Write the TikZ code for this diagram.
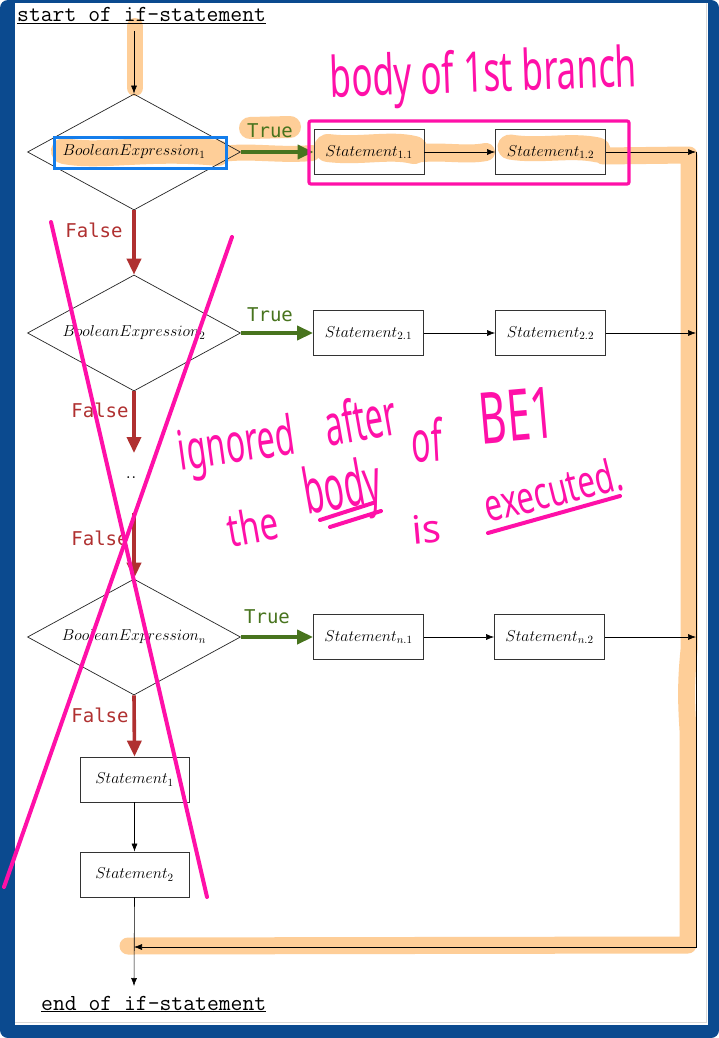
\RequirePackage{fix-cm}
\documentclass[tikz,border=0pt]{standalone}
\usepackage{fontspec}
\newfontfamily\dvm{DejaVu Sans Mono}
\newfontfamily\hw{Noto Sans}
\usetikzlibrary{shapes.geometric,arrows.meta}
\definecolor{frameblue}{RGB}{11,74,143}
\definecolor{tgreen}{RGB}{72,116,30}
\definecolor{fred}{RGB}{176,48,48}
\definecolor{ink}{RGB}{255,16,168}
\definecolor{hl}{RGB}{254,206,152}
\definecolor{hlblue}{RGB}{20,125,235}
\begin{document}
\begin{tikzpicture}[x=1pt,y=-1pt,
  stmt/.style={draw=black!80, line width=0.8pt, minimum width=110pt, minimum height=45pt, inner sep=0pt, font=\fontsize{15.8}{18}\selectfont},
  cond/.style={diamond, shape aspect=1.84, draw=black!85, line width=0.7pt, minimum width=213pt, minimum height=116pt, inner sep=0pt, font=\fontsize{15.8}{18}\selectfont},
  thinarr/.style={-{Latex[length=8pt,width=6pt]}, line width=0.6pt},
  tarr/.style={tgreen, line width=3.6pt, -{Triangle[length=16pt,width=14pt]}},
  farr/.style={fred, line width=3.6pt, -{Triangle[length=16pt,width=14pt]}},
  tlab/.style={text=tgreen, font=\dvm\fontsize{19}{21}\selectfont, inner sep=0pt},
  flab/.style={text=fred, font=\dvm\fontsize{19}{21}\selectfont, inner sep=0pt},
  hlstroke/.style={hl, line cap=round, line join=round},
  pen/.style={ink, line width=4pt, line cap=round, line join=round},
  hand/.style={text=ink, font=\hw, inner sep=0pt, anchor=base},
  ttl/.style={font=\ttfamily\fontsize{23}{25}\selectfont, inner sep=0pt, anchor=base west}
  ]
\useasboundingbox (0,0) rectangle (719,1038);
% frame
\fill[frameblue, rounded corners=8pt] (0,0) rectangle (719,1038);
\fill[white] (15,3) rectangle (708,1025);
\draw[black!15, line width=0.6pt] (706,3) -- (706,1022) -- (15,1022);

% highlighter strokes
\draw[hlstroke, line width=16pt] (135,26) -- (135,88);
\draw[hlstroke, line width=26pt] (64,151) .. controls (100,158) and (150,146) .. (218,153);
\draw[hlstroke, line width=22pt] (250,128) -- (290,127);
\draw[hlstroke, line width=16pt] (222,154) .. controls (250,150) and (280,156) .. (312,153);
\draw[hlstroke, line width=28pt] (328,148) .. controls (360,152) and (390,144) .. (414,150);
\draw[hlstroke, line width=18pt] (414,154) .. controls (440,150) and (465,156) .. (486,152);
\draw[hlstroke, line width=25pt] (510,147) .. controls (540,152) and (570,144) .. (598,150);
\draw[hlstroke, line width=17pt] (603,156) -- (689,155) -- (689,650) .. controls (686,680) and (686,700) .. (688,730) -- (688,945) -- (128,946);

% titles
\node[ttl] (start) at (17,22) {\underline{start of if-statement}};
\node[ttl] (end) at (41,1010) {\underline{end of if-statement}};

% decisions
\node[cond] (d1) at (134,152) {$BooleanExpression_1$};
\node[cond] (d2) at (134,333) {$BooleanExpression_2$};
\node[cond] (dn) at (134,637) {$BooleanExpression_n$};
\node[minimum height=60pt, inner sep=0pt, font=\fontsize{22}{24}\selectfont] (dots) at (131,478) {..};

% statements
\node[stmt] (s11) at (369,152) {$Statement_{1.1}$};
\node[stmt] (s12) at (550.5,152) {$Statement_{1.2}$};
\node[stmt] (s21) at (368.5,333) {$Statement_{2.1}$};
\node[stmt] (s22) at (550.5,333) {$Statement_{2.2}$};
\node[stmt] (sn1) at (368.5,637) {$Statement_{n.1}$};
\node[stmt] (sn2) at (549.5,637) {$Statement_{n.2}$};
\node[stmt, minimum width=109pt] (st1) at (134.5,779.5) {$Statement_1$};
\node[stmt, minimum width=109pt] (st2) at (134.5,874.5) {$Statement_2$};

% coordinates
\coordinate (top) at (134,31);
\coordinate (r1) at (696,152);
\coordinate (r2) at (696,333);
\coordinate (r3) at (696,637);
\coordinate (rb) at (696,947);
\coordinate (merge) at (134,947);
\coordinate (exit) at (134,986);
\coordinate (dtop) at (134,453);
\coordinate (dbot) at (134,513);

% connectors
\draw[thinarr] (top) -- (d1.north);
\draw[tarr] (d1.east) -- (s11.west);
\draw[tarr] (d2.east) -- (s21.west);
\draw[tarr] (dn.east) -- (sn1.west);
\draw[farr] (d1.south) -- (d2.north);
\draw[farr] (d2.south) -- (dtop);
\draw[farr] (dbot) -- (dn.north);
\draw[farr] (dn.south) -- (st1.north);
\draw[thinarr] (s11) -- (s12);
\draw[thinarr] (s21) -- (s22);
\draw[thinarr] (sn1) -- (sn2);
\draw[thinarr] (s12) -- (r1);
\draw[thinarr] (s22) -- (r2);
\draw[thinarr] (sn2) -- (r3);
\draw[thinarr] (r1) -- (rb) -- (merge);
\draw[thinarr] (st1) -- (st2);
\draw[thinarr] (st2.south) -- (exit);

% labels
\node[tlab, anchor=base] (tl1) at (270,137) {True};
\node[tlab, anchor=base] (tl2) at (270,321) {True};
\node[tlab, anchor=base] (tl3) at (267,623) {True};
\node[flab, anchor=base] (fl1) at (94,237) {False};
\node[flab, anchor=base] (fl2) at (100,417) {False};
\node[flab, anchor=base] (fl3) at (100,545) {False};
\node[flab, anchor=base] (fl4) at (100,722) {False};

% annotations
\draw[hlblue, line width=3pt] (54,137) rectangle (226,168);
\draw[ink, line width=3.2pt, rounded corners=2pt] (309,121) rectangle (629,184);
\node[hand, rotate=2] (hb) at (484,92) {\scalebox{1}[1.6]{\fontsize{35}{40}\selectfont body of 1st branch}};
\draw[pen] (51,222) -- (207,897);
\draw[pen] (232,237) -- (4,887);
\node[hand, rotate=8] (w1) at (239,462) {\scalebox{1}[1.7]{\fontsize{32}{36}\selectfont ignored}};
\node[hand, rotate=10] (w2) at (364,440) {\scalebox{1}[1.8]{\fontsize{32}{36}\selectfont after}};
\node[hand, rotate=3] (w3) at (428,462) {\scalebox{1}[1.8]{\fontsize{32}{36}\selectfont of}};
\node[hand, rotate=5] (w4) at (519,441) {\scalebox{1}[1.7]{\fontsize{42}{46}\selectfont BE1}};
\node[hand, rotate=10] (w5) at (256,543) {\scalebox{1}[1.4]{\fontsize{33}{36}\selectfont the}};
\node[hand, rotate=10] (w6) at (346,508) {\scalebox{1}[1.9]{\fontsize{33}{36}\selectfont body}};
\node[hand, rotate=5] (w7) at (428,543) {\scalebox{1.3}[1.3]{\fontsize{30}{36}\selectfont is}};
\node[hand, rotate=14] (w8) at (557,506) {\scalebox{1}[1.45]{\fontsize{31}{36}\selectfont executed.}};
\draw[pen] (320,520) -- (373,503);
\draw[pen] (330,527) -- (381,511);
\draw[pen] (488,533) -- (620,496);
\end{tikzpicture}
\end{document}
